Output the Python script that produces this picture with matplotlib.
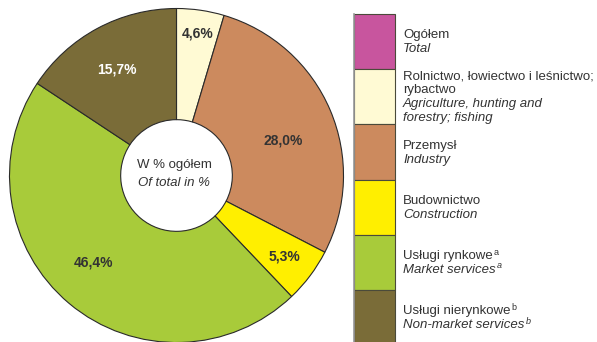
import numpy as np
import matplotlib
matplotlib.use('Agg')
import matplotlib.pyplot as plt
from matplotlib.patches import Rectangle

plt.rcParams['font.family'] = ['Liberation Sans', 'DejaVu Sans']

# shares of sections, in %
sectors = ['Rolnictwo', 'Przemysł', 'Budownictwo', 'Usługi rynkowe', 'Usługi nierynkowe']
shares = [4.6, 28.0, 5.3, 46.4, 15.7]
share_labels = ['4,6%', '28,0%', '5,3%', '46,4%', '15,7%']
pie_colors = ['#FFFAD4', '#CC8A5E', '#FFEF00', '#A8CB3A', '#7A6C38']
label_colors = ['#333333', '#333333', '#333333', '#333333', 'white']
label_r = [0.86, 0.67, 0.81, 0.72, 0.73]
label_shift = [0, -5, 0, -4, 1]  # degrees

legend_pl = [['Ogółem'], ['Rolnictwo, łowiectwo i leśnictwo;', 'rybactwo'], ['Przemysł'],
             ['Budownictwo'], ['Usługi rynkowe'], ['Usługi nierynkowe']]
legend_en = [['Total'], ['Agriculture, hunting and', 'forestry; fishing'], ['Industry'],
             ['Construction'], ['Market services'], ['Non-market services']]
footnotes = ['', '', '', '', 'a', 'b']
legend_colors = ['#C8559E'] + pie_colors

W, H = 597, 342
fig = plt.figure(figsize=(W / 100, H / 100), dpi=100)

# donut
cx, cy, r = 176.5, 175.5, 167.5
ax = fig.add_axes([(cx - r) / W, (H - cy - r) / H, 2 * r / W, 2 * r / H])
hole = 56 / r
wedges, _ = ax.pie(shares, colors=pie_colors, startangle=90, counterclock=False,
                   radius=1, wedgeprops=dict(width=1 - hole, edgecolor='#2a2a2a',
                                             linewidth=0.8))
ax.set_xlim(-1.003, 1.003)
ax.set_ylim(-1.003, 1.003)
ax.set_aspect('equal')
ax.axis('off')

for w, lab, c, rr, sh in zip(wedges, share_labels, label_colors, label_r, label_shift):
    ang = np.deg2rad((w.theta1 + w.theta2) / 2 + sh)
    ax.text(rr * np.cos(ang), rr * np.sin(ang), lab, ha='center', va='center',
            fontsize=10, fontweight='bold', color=c)

ax.text(-0.015, 0.06, 'W % ogółem', ha='center', va='center', fontsize=9.5, color='#333333')
ax.text(-0.015, -0.045, 'Of total in %', ha='center', va='center', fontsize=9.5,
        style='italic', color='#333333')

# legend in pixel coordinates
lg = fig.add_axes([0, 0, 1, 1])
lg.set_xlim(0, W)
lg.set_ylim(H, 0)
lg.axis('off')

top, step = 14, 55.2
for i, col in enumerate(legend_colors):
    y0 = top + i * step
    lg.add_patch(Rectangle((354, y0), 41, step, facecolor=col,
                           edgecolor='#4a4a3a', linewidth=0.8))
lg.plot([354, 354], [top, H], color='#999999', lw=1.2)

line_h = 14
for i, (pl, en) in enumerate(zip(legend_pl, legend_en)):
    rows = [(t, 'normal') for t in pl] + [(t, 'italic') for t in en]
    yc = top + i * step + step / 2 - 1
    y_first = yc - (len(rows) - 1) * line_h / 2
    for k, (t, st) in enumerate(rows):
        txt = lg.text(403, y_first + k * line_h, t, ha='left', va='center_baseline',
                      fontsize=9.5, style=st, color='#333333')
        if footnotes[i]:
            # small raised footnote mark after the line
            lg.annotate(footnotes[i], xy=(1, 0.45), xycoords=txt,
                        xytext=(0.8, 0), textcoords='offset points',
                        ha='left', va='bottom', fontsize=6.5, style=st,
                        color='#333333')

fig.savefig('out.png', dpi=100)
